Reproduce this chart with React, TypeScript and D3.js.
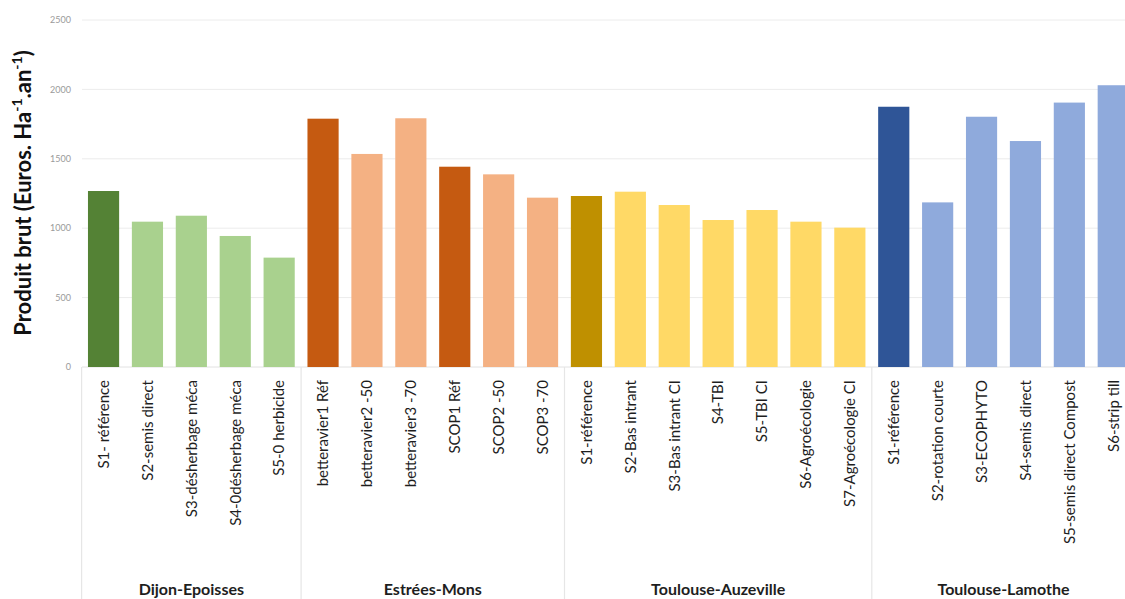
import React from "react";
import * as d3 from "d3";

const groups = ["Dijon-Epoisses", "Estrées-Mons", "Toulouse-Auzeville", "Toulouse-Lamothe"];
const categories = [
  "S1- référence", "S2-semis direct", "S3-désherbage méca", "S4-0désherbage méca", "S5-0 herbicide",
  "betteravier1 Réf", "betteravier2 -50", "betteravier3 -70", "SCOP1 Réf", "SCOP2 -50", "SCOP3 -70",
  "S1-référence", "S2-Bas intrant", "S3-Bas intrant CI", "S4-TBI", "S5-TBI CI", "S6-Agroécologie", "S7-Agroécologie CI",
  "S1-référence", "S2-rotation courte", "S3-ECOPHYTO", "S4-semis direct", "S5-semis direct Compost", "S6-strip till",
];
const categoryGroup = [0, 0, 0, 0, 0, 1, 1, 1, 1, 1, 1, 2, 2, 2, 2, 2, 2, 2, 3, 3, 3, 3, 3, 3];
const isReference = [1, 0, 0, 0, 0, 1, 0, 0, 1, 0, 0, 1, 0, 0, 0, 0, 0, 0, 1, 0, 0, 0, 0, 0];
const values = [
  1268, 1047, 1090, 944, 788,
  1789, 1535, 1792, 1443, 1388, 1220,
  1232, 1263, 1167, 1059, 1131, 1047, 1004,
  1875, 1186, 1803, 1628, 1905, 2030,
];
const yTicks = [0, 500, 1000, 1500, 2000, 2500];
const darkColors = ["#548235", "#c55a11", "#bf9000", "#2f5597"];
const lightColors = ["#a9d18e", "#f4b183", "#ffd966", "#8faadc"];

export default function App() {
  const W = 1125, H = 599;
  const idx = categories.map((_, i) => i);
  const x = d3.scaleBand<number>().domain(idx).range([81.6, 81.6 + 24 * 43.9]).paddingInner(0.29).paddingOuter(0.145);
  const y = d3.scaleLinear().domain([0, 2500]).range([367, 20]);
  const step = x.step();
  const x0 = x.range()[0];
  const groupBounds = groups.map((g, gi) => {
    const members = idx.filter((i) => categoryGroup[i] === gi);
    const start = x0 + members[0] * step;
    const end = x0 + (members[members.length - 1] + 1) * step;
    return { g, start, end };
  });
  const sepXs = [x0, ...groupBounds.map((b) => b.end)];
  const font = "Lato, 'Open Sans', sans-serif";
  return (
    <svg width={W} height={H} style={{ position: "absolute", left: 0, top: 0, background: "#fff" }} fontFamily={font}>
      {yTicks.map((t) => (
        <g key={t}>
          {t > 0 && <line x1={82} x2={W} y1={y(t)} y2={y(t)} stroke="#ececec" strokeWidth={1} />}
          <text x={71} y={y(t)} dy="0.35em" textAnchor="end" fontSize={9} fill="#9a9a9a">{t}</text>
        </g>
      ))}
      <line x1={82} x2={W} y1={y(0)} y2={y(0)} stroke="#e2e2e2" strokeWidth={1} />
      {idx.map((i) => (
        <rect key={i} x={x(i)} y={y(values[i])} width={x.bandwidth()} height={y(0) - y(values[i])}
          fill={isReference[i] ? darkColors[categoryGroup[i]] : lightColors[categoryGroup[i]]} />
      ))}
      {sepXs.map((sx, k) => (
        <line key={k} x1={sx} x2={sx} y1={367} y2={H} stroke="#e6e6e6" strokeWidth={1.2} />
      ))}
      {idx.map((i) => {
        const cx = (x(i) as number) + x.bandwidth() / 2;
        return (
          <text key={i} transform={`translate(${cx},380) rotate(-90)`} textAnchor="end" dy="0.35em"
            fontSize={15} fill="#1e1e1e">{categories[i]}</text>
        );
      })}
      {groupBounds.map((b) => (
        <text key={b.g} x={(b.start + b.end) / 2} y={595} textAnchor="middle" fontSize={16} fontWeight="bold" fill="#1e1e1e">{b.g}</text>
      ))}
      <text transform="translate(31,193) rotate(-90)" textAnchor="middle" fontSize={22} fontWeight="bold" fill="#111">
        Produit brut (Euros. Ha<tspan fontSize={14} dy={-9}>-1</tspan><tspan dy={9}>.an</tspan><tspan fontSize={14} dy={-9}>-1</tspan><tspan dy={9}>)</tspan>
      </text>
    </svg>
  );
}
